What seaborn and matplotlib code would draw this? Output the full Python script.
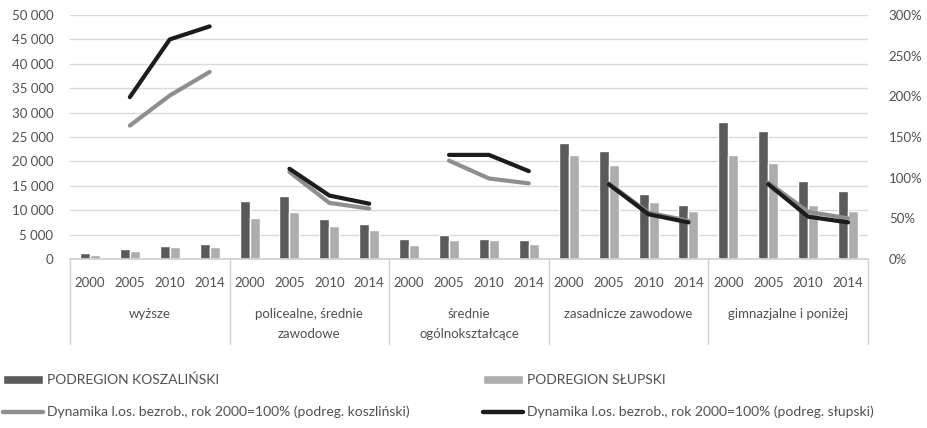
import pandas as pd
import numpy as np
import matplotlib.pyplot as plt
import matplotlib.transforms as mtransforms
from matplotlib.patches import Patch
from matplotlib.lines import Line2D
import seaborn as sns

# dane
grupy = ["wyższe", "policealne, średnie\nzawodowe", "średnie\nogólnokształcące",
         "zasadnicze zawodowe", "gimnazjalne i poniżej"]
lata = ["2000", "2005", "2010", "2014"]

koszalinski = [1300, 2130, 2600, 3080,
               11840, 12860, 8290, 7260,
               4100, 4860, 4100, 3840,
               23680, 22100, 13420, 11080,
               27980, 26200, 15940, 13890]
slupski = [760, 1580, 2400, 2400,
           8490, 9580, 6710, 5950,
           2810, 3840, 3840, 3020,
           21300, 19290, 11630, 9850,
           21340, 19570, 11080, 9850]

# dynamika (%), bez roku 2000
dyn_lata = ["2005", "2010", "2014"]
dyn_koszalinski = [164, 201, 230,
                   107, 69, 62,
                   121, 99, 93,
                   93, 57, 47,
                   94, 58, 50]
dyn_slupski = [199, 270, 286,
               111, 78, 68,
               128, 128, 108,
               92, 55, 45,
               92, 52, 45]

lbl_k = "PODREGION KOSZALIŃSKI"
lbl_s = "PODREGION SŁUPSKI"
lbl_dk = "Dynamika l.os. bezrob., rok 2000=100% (podreg. koszliński)"
lbl_ds = "Dynamika l.os. bezrob., rok 2000=100% (podreg. słupski)"

c_k, c_s = "#5a5a5a", "#adadad"
c_dk, c_ds = "#8e8e8e", "#1c1c1c"
c_txt = "#505050"

sns.set_theme(style="white")
plt.rcParams['font.family'] = ['Lato', 'DejaVu Sans']

rows = []
for gi, g in enumerate(grupy):
    for yi, r in enumerate(lata):
        i = gi * 4 + yi
        rows.append({'kat': f"{gi}-{r}", 'rok': r, 'seria': lbl_k, 'wartosc': koszalinski[i]})
        rows.append({'kat': f"{gi}-{r}", 'rok': r, 'seria': lbl_s, 'wartosc': slupski[i]})
df = pd.DataFrame(rows)
order = [f"{gi}-{r}" for gi in range(len(grupy)) for r in lata]

drows = []
for gi, g in enumerate(grupy):
    for yi, r in enumerate(dyn_lata):
        j = gi * 3 + yi
        pos = order.index(f"{gi}-{r}")
        drows.append({'pos': pos, 'grupa': gi, 'seria': lbl_dk, 'dyn': dyn_koszalinski[j]})
        drows.append({'pos': pos, 'grupa': gi, 'seria': lbl_ds, 'dyn': dyn_slupski[j]})
ddf = pd.DataFrame(drows)

fig = plt.figure(figsize=(9.27, 4.28), dpi=100)
ax = fig.add_axes([70 / 927, 1 - 259 / 428, 798 / 927, 244 / 428])

sns.barplot(data=df, x='kat', y='wartosc', hue='seria', order=order,
            palette={lbl_k: c_k, lbl_s: c_s}, width=0.5, saturation=1,
            legend=False, ax=ax)
ax.set_ylim(0, 50000)
ax.set_yticks(np.arange(0, 50001, 5000))
ax.set_yticklabels([f"{v:,}".replace(",", " ") for v in range(0, 50001, 5000)])
ax.set_xlim(-0.5, len(order) - 0.5)
ax.set_xticks(range(len(order)))
ax.set_xticklabels([k.split("-")[1] for k in order])
ax.set_xlabel("")
ax.set_ylabel("")
ax.grid(axis='y', color='#d9d9d9', linewidth=1)
ax.set_axisbelow(True)
for s in ['left', 'right', 'top']:
    ax.spines[s].set_visible(False)
ax.spines['bottom'].set_color('#d0d0d0')
ax.tick_params(axis='both', length=0, labelsize=9.5, colors=c_txt)
ax.tick_params(axis='y', pad=12)
ax.tick_params(axis='x', pad=13)

ax2 = ax.twinx()
sns.lineplot(data=ddf, x='pos', y='dyn', hue='seria', units='grupa', estimator=None,
             palette={lbl_dk: c_dk, lbl_ds: c_ds}, linewidth=3, legend=False, ax=ax2,
             hue_order=[lbl_dk, lbl_ds])
ax2.set_ylim(0, 300)
ax2.set_yticks(range(0, 301, 50))
ax2.set_yticklabels([f"{v}%" for v in range(0, 301, 50)])
ax2.set_xlim(-0.5, len(order) - 0.5)
ax2.set_ylabel("")
ax2.set_xlabel("")
for s in ax2.spines.values():
    s.set_visible(False)
ax2.tick_params(axis='y', length=0, labelsize=9.5, colors=c_txt, pad=15)

# separatory i etykiety grup
trans = mtransforms.blended_transform_factory(ax.transData, ax.transAxes)
for b in range(len(grupy) + 1):
    ax.plot([b * 4 - 0.5, b * 4 - 0.5], [0, -85 / 244], transform=trans,
            color='#d0d0d0', linewidth=1, clip_on=False)
for gi, g in enumerate(grupy):
    ax.text(gi * 4 + 1.5, -49 / 244, g, transform=trans, ha='center', va='top',
            fontsize=9.5, color=c_txt, linespacing=1.75)

handles = [Patch(facecolor=c_k), Line2D([], [], color=c_dk, linewidth=3.2),
           Patch(facecolor=c_s), Line2D([], [], color=c_ds, linewidth=3.2)]
labels = [lbl_k, lbl_dk, lbl_s, lbl_ds]
fig.legend(handles, labels, loc='upper left', bbox_to_anchor=(3 / 927, 1 - 374 / 428),
           ncol=2, frameon=False, fontsize=10, handlelength=2.9, handleheight=0.6,
           handletextpad=0.25, columnspacing=5.3, labelspacing=1.4,
           borderaxespad=0, borderpad=0, labelcolor=c_txt)

fig.savefig("out.png", dpi=100)
